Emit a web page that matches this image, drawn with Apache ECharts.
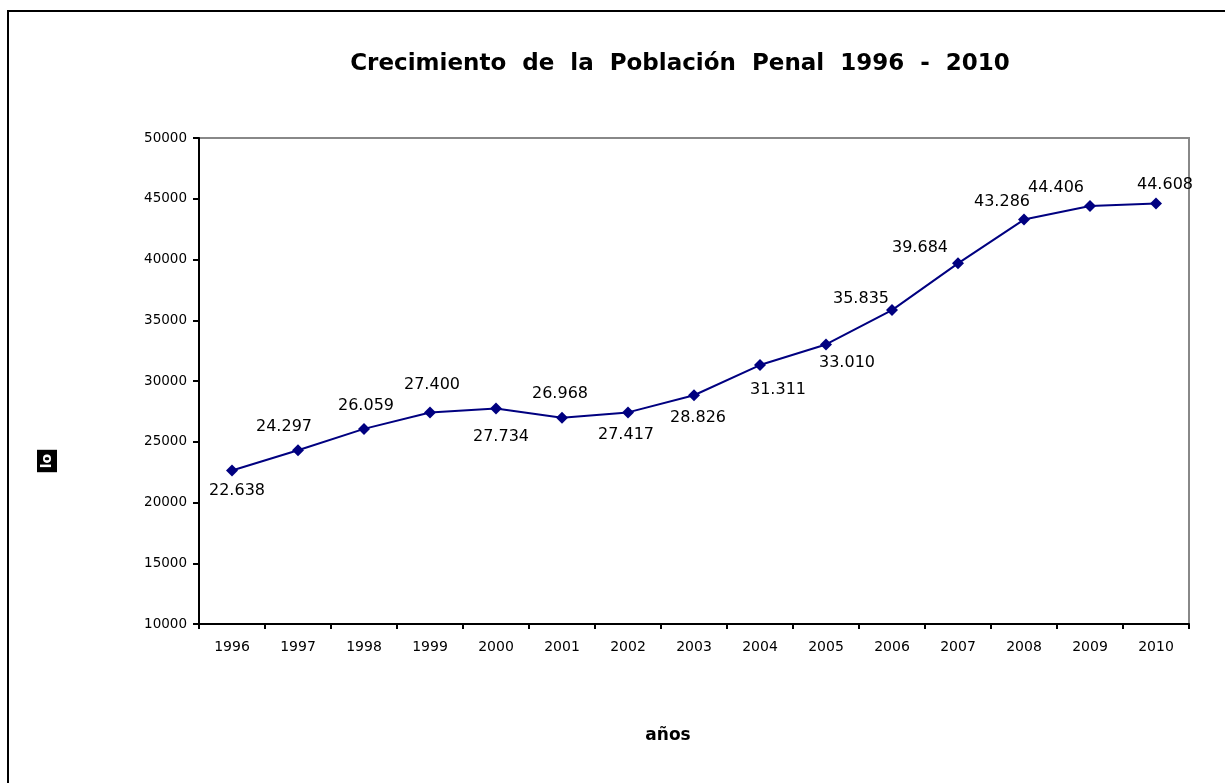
<!DOCTYPE html>
<html>
<head>
<meta charset="utf-8">
<script src="https://cdn.jsdelivr.net/npm/echarts@6/dist/echarts.min.js"></script>
<style>
  html, body { margin: 0; padding: 0; background: #fff; }
  #chart { width: 1225px; height: 783px; }
</style>
</head>
<body>
<div id="chart"></div>
<script>
// datos
var years = ['1996', '1997', '1998', '1999', '2000', '2001', '2002', '2003',
             '2004', '2005', '2006', '2007', '2008', '2009', '2010'];
var poblacion = [22638, 24297, 26059, 27400, 27734, 26968, 27417, 28826,
                 31311, 33010, 35835, 39684, 43286, 44406, 44608];

// ubicacion de las etiquetas [dx, dy] respecto al punto
var labelOffsets = [
    [5, 20], [-14, -23], [2, -23], [2, -28], [5, 28], [-2, -24], [-2, 22], [4, 23],
    [18, 25], [21, 18], [-31, -11], [-38, -15], [-22, -18], [-34, -18], [9, -19]
];

var FONT = 'DejaVu Sans, Verdana, sans-serif';

function fmt(v) {
    return String(v).replace(/\B(?=(\d{3})+(?!\d))/g, '.');
}

var chart = echarts.init(document.getElementById('chart'));

var seriesData = poblacion.map(function (v, i) {
    return {
        value: v,
        label: { offset: labelOffsets[i] }
    };
});

chart.setOption({
    animation: false,
    title: {
        text: 'Crecimiento  de  la  Población  Penal  1996  -  2010',
        left: 675,
        top: 48,
        textAlign: 'center',
        textStyle: {
            fontFamily: FONT,
            fontSize: 23,
            fontWeight: 'bold',
            color: '#000'
        }
    },
    graphic: [
        {
            type: 'rect',
            shape: { x: 8, y: 11, width: 1400, height: 1000 },
            style: { fill: 'none', stroke: '#000', lineWidth: 2 }
        },
        {
            type: 'text',
            x: 47,
            y: 461,
            rotation: Math.PI / 2,
            style: {
                text: 'lo',
                fontFamily: FONT,
                fontSize: 14,
                fontWeight: 'bold',
                fill: '#fff',
                align: 'center',
                verticalAlign: 'middle',
                backgroundColor: '#000',
                padding: [3, 4]
            }
        },
        {
            type: 'text',
            x: 668,
            y: 736,
            style: {
                text: 'años',
                fontFamily: FONT,
                fontSize: 17,
                fontWeight: 'bold',
                fill: '#000',
                align: 'center',
                verticalAlign: 'middle'
            }
        }
    ],
    grid: {
        left: 199,
        top: 138,
        width: 990,
        height: 486,
        show: true,
        borderColor: '#888',
        borderWidth: 2,
        containLabel: false
    },
    xAxis: {
        type: 'category',
        data: years,
        boundaryGap: true,
        axisLine: { lineStyle: { color: '#000', width: 2 } },
        axisTick: { show: true, length: 5, alignWithLabel: false, lineStyle: { color: '#000', width: 2 } },
        axisLabel: {
            margin: 16,
            fontFamily: FONT,
            fontSize: 14,
            color: '#000'
        },
        splitLine: { show: false }
    },
    yAxis: {
        type: 'value',
        min: 10000,
        max: 50000,
        interval: 5000,
        axisLine: { show: true, lineStyle: { color: '#000', width: 2 } },
        axisTick: { show: true, length: 6, lineStyle: { color: '#000', width: 2 } },
        axisLabel: {
            margin: 12,
            fontFamily: FONT,
            fontSize: 13.5,
            color: '#000',
            formatter: function (v) { return String(v); }
        },
        splitLine: { show: false }
    },
    series: [{
        type: 'line',
        data: seriesData,
        symbol: 'diamond',
        symbolSize: 12,
        itemStyle: { color: '#000080' },
        lineStyle: { color: '#000080', width: 2 },
        label: {
            show: true,
            position: 'inside',
            formatter: function (p) { return fmt(p.value); },
            fontFamily: FONT,
            fontSize: 16,
            color: '#000'
        }
    }]
});
</script>
</body>
</html>
